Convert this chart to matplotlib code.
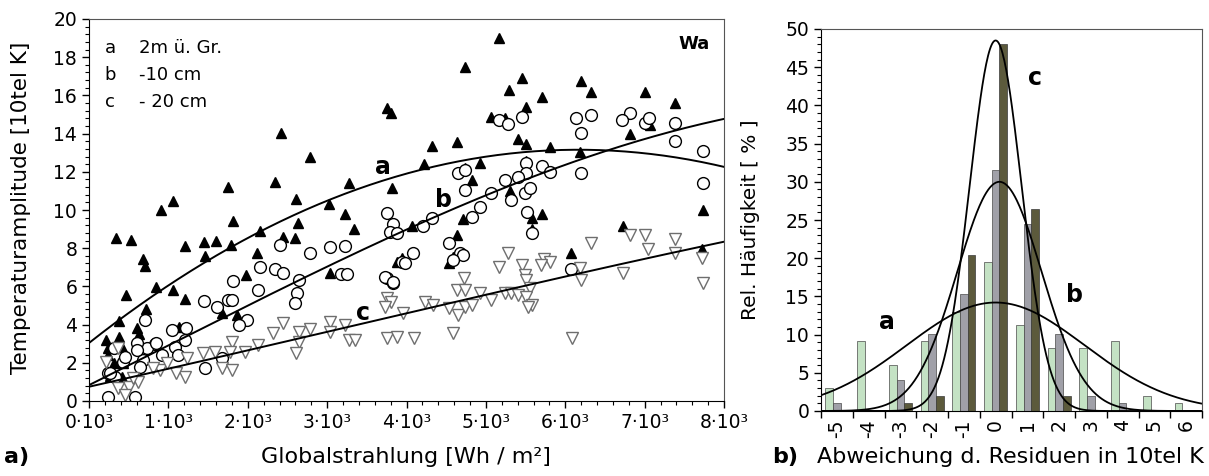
import numpy as np
import matplotlib
matplotlib.use("Agg")
import matplotlib.pyplot as plt
from matplotlib.ticker import MultipleLocator, FixedLocator

plt.rcParams["font.family"] = ["DejaVu Sans"]

# ── scatter data (x in 10^3 Wh/m², y in 10tel K) ────────────────────────────
a_x = [5.16, 4.74, 5.46, 5.29, 5.71, 6.20, 6.32, 7.00, 7.38, 3.75, 3.81, 5.51, 5.06, 5.24,
       4.32, 4.64, 5.41, 5.51, 5.81, 6.18, 4.22, 4.92, 4.74, 5.50, 4.83, 6.81, 7.07, 5.31,
       3.82, 7.73, 5.71, 5.58, 4.71, 4.07, 5.58, 4.64, 6.73,
       2.42, 2.78, 2.34, 3.28, 1.75, 1.06, 0.91, 2.61, 3.02, 3.22, 1.82, 2.63, 3.34, 2.15,
       0.34, 0.53, 2.45, 2.59, 1.45, 1.60,
       1.21, 1.79, 1.46, 2.12, 0.68, 0.71, 1.98, 3.03, 0.85, 1.06, 1.21, 0.47, 1.68, 1.87,
       0.72, 0.38, 1.13, 0.61, 0.22, 0.38, 0.63, 0.24, 0.41, 0.24, 0.43, 0.31, 0.43, 0.41,
       0.27, 3.94, 4.53, 4.58, 6.07, 7.72, 3.88]
a_y = [18.99, 17.50, 16.90, 16.28, 15.90, 16.75, 16.16, 16.16, 15.59, 15.32, 15.10, 15.37,
       14.89, 14.80, 13.37, 13.58, 13.70, 13.46, 13.31, 13.05, 12.39, 12.44, 12.22, 12.58,
       11.57, 14.00, 14.45, 11.00, 11.17, 10.00, 9.77, 9.56, 9.51, 9.18, 8.99, 8.69, 9.16,
       14.05, 12.79, 11.48, 11.40, 11.19, 10.47, 10.00, 10.58, 10.31, 9.79, 9.42, 9.34, 8.99,
       8.90, 8.52, 8.45, 8.60, 8.55, 8.35, 8.40,
       8.13, 8.17, 7.59, 7.73, 7.42, 7.08, 6.60, 6.68, 5.98, 5.81, 5.34, 5.55, 4.59, 4.50,
       4.82, 4.20, 3.86, 3.84, 3.19, 3.37, 3.49, 2.76, 2.84, 2.40, 2.35, 1.97, 1.97, 1.27,
       1.30, 7.50, 7.20, 7.52, 7.73, 7.96, 7.29]

b_x = [5.16, 5.28, 5.45, 6.14, 6.32, 6.20, 6.81, 6.72, 7.00, 7.06, 7.38, 7.38, 7.73, 7.73,
       6.20, 5.51, 5.71, 5.81, 5.51, 5.40, 5.24, 4.65, 4.74, 4.74, 5.06, 5.32, 5.49, 5.56,
       4.92, 4.82, 5.52, 4.32, 4.21, 3.75, 3.83, 3.79, 5.58,
       3.88, 2.41, 2.78, 3.03, 3.22, 2.15, 2.34, 2.44, 3.18, 3.25, 2.64, 1.82, 2.13, 2.62,
       2.59, 3.75, 3.83, 1.45, 1.61, 1.75, 1.80, 1.99, 1.89, 0.71, 1.05, 1.22, 1.21, 0.83,
       1.08, 0.73, 0.60, 0.92, 0.68, 0.43, 1.12, 1.67, 1.46, 0.64, 0.24, 0.33, 0.24, 0.58,
       0.31, 0.60, 0.85, 0.45, 0.26,
       4.53, 3.94, 4.08, 4.67, 4.71, 4.59, 3.73, 3.83, 6.07, 3.98]
b_y = [14.71, 14.50, 14.89, 14.80, 15.00, 14.01, 15.10, 14.71, 14.53, 14.80, 14.53, 13.63,
       13.10, 11.43, 11.95, 12.44, 12.32, 12.00, 11.92, 11.74, 11.57, 11.92, 12.09, 11.05,
       10.90, 10.52, 10.87, 11.14, 10.17, 9.65, 9.91, 9.56, 9.16, 9.83, 9.27, 8.86, 8.78,
       8.78, 8.17, 7.73, 8.08, 8.12, 7.03, 6.90, 6.72, 6.63, 6.63, 6.34, 6.30, 5.81, 5.64,
       5.12, 6.42, 6.16, 5.25, 4.90, 5.29, 5.29, 4.24, 3.98, 4.24, 3.72, 3.80, 3.19, 2.98,
       2.84, 2.76, 3.02, 2.41, 2.15, 2.06, 2.41, 2.24, 1.71, 1.80, 1.45, 1.27, 0.23, 0.23,
       2.76, 2.67, 3.02, 2.32, 1.45,
       8.26, 7.29, 7.77, 7.77, 7.64, 7.38, 6.51, 6.25, 6.90, 7.20]

c_x = [6.81, 7.00, 7.38, 6.32, 7.04, 5.28, 7.38, 7.72, 5.73, 5.81, 5.70, 5.16, 5.45, 5.49,
       5.51, 5.55, 6.18, 6.20, 6.73, 7.73, 4.73, 4.63, 4.74, 4.92, 5.07, 5.24, 5.32, 5.41,
       5.51, 5.58, 5.53, 4.23, 4.34, 4.53, 4.65, 4.74, 4.82, 3.75, 3.81, 3.73, 3.96, 3.75,
       3.88, 4.09, 4.59, 6.08,
       3.03, 3.22, 3.03, 2.78, 2.64, 2.64, 2.61, 3.27, 3.35,
       2.45, 2.32, 2.13, 1.96, 1.80, 1.78, 1.67, 1.80, 1.44, 1.59, 1.21, 1.10, 0.89, 0.81,
       0.98, 1.23, 0.62, 0.50, 0.37, 0.45, 0.22, 0.37, 0.56]
c_y = [8.69, 8.69, 8.46, 8.26, 7.94, 7.77, 7.73, 7.50, 7.42, 7.29, 7.12, 7.03, 7.12, 6.60,
       6.34, 5.90, 6.95, 6.34, 6.69, 6.16, 6.42, 5.81, 5.81, 5.64, 5.29, 5.64, 5.64, 5.55,
       5.46, 5.03, 4.94, 5.20, 5.03, 4.85, 4.50, 4.94, 5.03, 5.38, 5.20, 4.94, 4.59, 3.28,
       3.37, 3.28, 3.54, 3.28,
       4.15, 3.98, 3.63, 3.77, 3.63, 3.10, 2.49, 3.19, 3.19,
       4.07, 3.54, 2.93, 2.58, 3.10, 2.58, 1.71, 1.62, 2.49, 2.58, 1.27, 1.45, 1.62, 1.71,
       1.97, 2.24, 1.01, 0.75, 0.66, 0.31, 2.06, 2.76, 1.19]

# trend curves (x, y)
trend_a_x = [0.0, 0.89, 2.15, 2.59, 3.64, 4.69, 5.78, 6.62, 7.97]
trend_a_y = [3.10, 5.57, 8.95, 9.91, 11.31, 12.53, 13.14, 13.14, 12.27]
trend_b_x = [0.0, 0.50, 1.71, 2.64, 3.81, 4.42, 5.24, 5.78, 6.71, 7.97]
trend_b_y = [0.75, 2.06, 4.24, 6.25, 8.60, 10.00, 11.14, 12.00, 13.23, 14.80]
trend_c_x = [0.0, 1.21, 2.64, 3.98, 5.26, 6.25, 7.97]
trend_c_y = [0.75, 1.88, 3.28, 4.59, 5.78, 6.77, 8.31]

x_ticks = [0, 1, 2, 3, 4, 5, 6, 7, 8]
legend_keys = ["a", "b", "c"]
legend_text = ["2m ü. Gr.", "-10 cm", "- 20 cm"]

# ── histogram data (relative frequency in %) ────────────────────────────────
categories = [-5, -4, -3, -2, -1, 0, 1, 2, 3, 4, 5, 6]
hist_a = [3.0, 9.2, 6.0, 9.2, 13.0, 19.5, 11.2, 8.2, 8.2, 9.2, 2.0, 1.0]
hist_b = [1.0, 0.1, 4.0, 10.1, 15.3, 31.5, 24.5, 10.1, 2.0, 1.0, 0.0, 0.0]
hist_c = [0.0, 0.0, 1.0, 2.0, 20.4, 48.0, 26.5, 2.0, 0.0, 0.0, 0.0, 0.0]

# normal curves: peak, mean, sigma
norm_peak = [14.2, 30.0, 48.5]
norm_mean = [0.0, 0.12, 0.0]
norm_sigma = [2.8, 1.33, 0.82]

COL_A = "#c4e2c4"
COL_B = "#a0a0a8"
COL_C = "#5c5a3c"
FRAME = "#555555"
TICK_FS = 13.5
LABEL_FS = 16

W, H = 1209, 476
fig = plt.figure(figsize=(W / 100, H / 100), dpi=100)


def fx(px):
    return px / W


def fy(py):
    return 1 - py / H


# ── panel a ─────────────────────────────────────────────────────────────────
ax = fig.add_axes([fx(89), fy(401), (724 - 89) / W, (401 - 19) / H])
ax.plot(a_x, a_y, "^", ms=7.5, color="black", mec="black", ls="none")
ax.plot(b_x, b_y, "o", ms=8.5, mfc="white", mec="black", mew=1.0, ls="none")
ax.plot(c_x, c_y, "v", ms=9, mfc="white", mec="#6e6e6e", mew=1.0, ls="none")

xs = np.linspace(0, 8, 200)
for tx, ty in ((trend_a_x, trend_a_y), (trend_b_x, trend_b_y), (trend_c_x, trend_c_y)):
    coef = np.polyfit(tx, ty, 3)
    ax.plot(xs, np.polyval(coef, xs), color="black", lw=1.4)

ax.set_xlim(0, 8)
ax.set_ylim(0, 20)
ax.xaxis.set_major_locator(FixedLocator(x_ticks))
ax.set_xticklabels([f"{t}·10³" for t in x_ticks])
ax.xaxis.set_minor_locator(MultipleLocator(0.2))
ax.yaxis.set_major_locator(MultipleLocator(2))
ax.yaxis.set_minor_locator(MultipleLocator(0.4))
ax.tick_params(which="major", direction="out", length=5, width=1, labelsize=TICK_FS)
ax.tick_params(which="minor", direction="out", length=3, width=0.8)
for s in ("top", "right"):
    ax.spines[s].set_color(FRAME)
for s in ("left", "bottom"):
    ax.spines[s].set_color("black")

for i, (k, t) in enumerate(zip(legend_keys, legend_text)):
    yy = 18.48 - i * 1.41
    ax.text(0.20, yy, k, fontsize=13, va="center", ha="left")
    ax.text(0.63, yy, t, fontsize=13, va="center", ha="left")
ax.text(7.62, 18.7, "Wa", fontsize=13, fontweight="bold", ha="center", va="center")
ax.text(3.70, 12.25, "a", fontsize=17, fontweight="bold", ha="center", va="center")
ax.text(4.46, 10.5, "b", fontsize=17, fontweight="bold", ha="center", va="center")
ax.text(3.45, 4.6, "c", fontsize=17, fontweight="bold", ha="center", va="center")

fig.text(fx(21), fy(208), "Temperaturamplitude [10tel K]", rotation=90,
         fontsize=15.5, ha="center", va="center")
fig.text(fx(406), fy(457), "Globalstrahlung [Wh / m²]", fontsize=LABEL_FS,
         ha="center", va="center")
fig.text(fx(4), fy(457), "a)", fontsize=16, fontweight="bold", ha="left", va="center")

# ── panel b ─────────────────────────────────────────────────────────────────
bx = fig.add_axes([fx(821), fy(411), (1202 - 821) / W, (411 - 29) / H])
cat = np.array(categories, dtype=float)
bw = 0.24
bx.bar(cat - bw, hist_a, width=bw, color=COL_A, edgecolor="#4a4a4a", linewidth=0.5)
bx.bar(cat, hist_b, width=bw, color=COL_B, edgecolor="#4a4a4a", linewidth=0.5)
bx.bar(cat + bw, hist_c, width=bw, color=COL_C, edgecolor="#3a3a3a", linewidth=0.5)

gx = np.linspace(-5.5, 6.5, 400)
for pk, mu, sg in zip(norm_peak, norm_mean, norm_sigma):
    bx.plot(gx, pk * np.exp(-(gx - mu) ** 2 / (2 * sg ** 2)), color="black", lw=1.3)

bx.set_xlim(-5.5, 6.5)
bx.set_ylim(0, 50)
bx.xaxis.set_major_locator(FixedLocator(np.arange(-5.5, 7.0, 1.0)))
bx.xaxis.set_minor_locator(FixedLocator(categories))
bx.set_xticklabels([], minor=False)
bx.set_xticklabels([str(c) for c in categories], minor=True, rotation=90)
bx.yaxis.set_major_locator(MultipleLocator(5))
bx.yaxis.set_minor_locator(MultipleLocator(1))
bx.tick_params(axis="x", which="major", direction="out", length=5, width=1)
bx.tick_params(axis="x", which="minor", length=0, labelsize=TICK_FS, pad=6)
bx.tick_params(axis="y", which="major", direction="out", length=5, width=1, labelsize=TICK_FS)
bx.tick_params(axis="y", which="minor", direction="out", length=3, width=0.8)
for s in ("top", "right"):
    bx.spines[s].set_color(FRAME)
for s in ("left", "bottom"):
    bx.spines[s].set_color("black")

bx.text(1.24, 43.6, "c", fontsize=17, fontweight="bold", ha="center", va="center")
bx.text(2.5, 15.2, "b", fontsize=17, fontweight="bold", ha="center", va="center")
bx.text(-3.43, 11.7, "a", fontsize=17, fontweight="bold", ha="center", va="center")

fig.text(fx(750), fy(220), "Rel. Häufigkeit [ % ]", rotation=90, fontsize=14.5,
         ha="center", va="center")
fig.text(fx(1010), fy(457), "Abweichung d. Residuen in 10tel K", fontsize=LABEL_FS,
         ha="center", va="center")
fig.text(fx(772), fy(457), "b)", fontsize=16, fontweight="bold", ha="left", va="center")

fig.savefig("out.png", dpi=100)
